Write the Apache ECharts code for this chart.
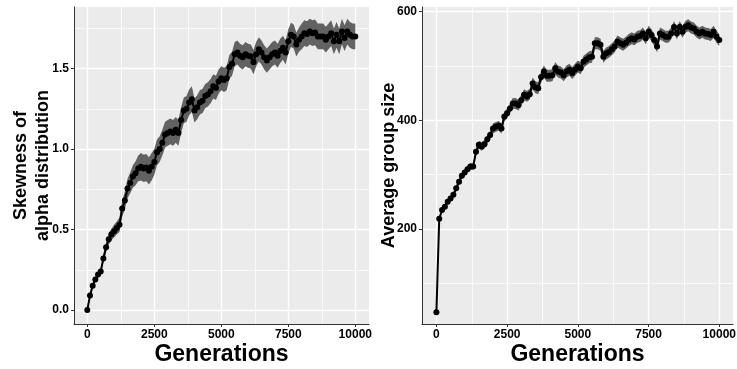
<!DOCTYPE html>
<html>
<head>
<meta charset="utf-8">
<script src="https://cdn.jsdelivr.net/npm/echarts@6/dist/echarts.min.js"></script>
<style>
html,body{margin:0;padding:0;background:#fff;}
#c{width:737px;height:369px;}
</style>
</head>
<body>
<div id="c"></div>
<script>
// Generations (x values)
const generations = [
  0,100,200,300,400,500,600,700,800,900,
  1000,1100,1200,1300,1400,1500,1600,1700,1800,1900,
  2000,2100,2200,2300,2400,2500,2600,2700,2800,2900,
  3000,3100,3200,3300,3400,3500,3600,3700,3800,3900,
  4000,4100,4200,4300,4400,4500,4600,4700,4800,4900,
  5000,5100,5200,5300,5400,5500,5600,5700,5800,5900,
  6000,6100,6200,6300,6400,6500,6600,6700,6800,6900,
  7000,7100,7200,7300,7400,7500,7600,7700,7800,7900,
  8000,8100,8200,8300,8400,8500,8600,8700,8800,8900,
  9000,9100,9200,9300,9400,9500,9600,9700,9800,9900,
  10000
];

// Left panel: skewness of alpha distribution (mean)
const skewness = [
  0.00,0.09,0.15,0.19,0.22,0.24,0.32,0.39,0.44,0.47,
  0.49,0.51,0.53,0.63,0.68,0.755,0.79,0.83,0.85,0.88,
  0.89,0.88,0.885,0.865,0.89,0.92,0.98,1.00,1.04,1.09,
  1.10,1.11,1.10,1.12,1.10,1.18,1.24,1.25,1.29,1.31,
  1.24,1.26,1.29,1.30,1.33,1.34,1.36,1.39,1.38,1.42,
  1.44,1.43,1.44,1.51,1.53,1.59,1.60,1.58,1.57,1.59,
  1.58,1.575,1.54,1.59,1.62,1.60,1.57,1.55,1.57,1.59,
  1.60,1.58,1.61,1.63,1.60,1.67,1.71,1.70,1.65,1.68,
  1.70,1.72,1.715,1.73,1.72,1.725,1.70,1.70,1.70,1.68,
  1.70,1.72,1.67,1.71,1.67,1.73,1.69,1.73,1.71,1.70,
  1.70
];
// Left panel: half-width of the shaded band
const skewnessBand = [
  0.005,0.01,0.012,0.015,0.018,0.02,0.025,0.03,0.035,0.035,
  0.04,0.04,0.045,0.05,0.055,0.06,0.065,0.07,0.075,0.08,
  0.085,0.085,0.085,0.085,0.085,0.08,0.08,0.08,0.08,0.08,
  0.08,0.08,0.08,0.08,0.08,0.08,0.08,0.08,0.08,0.08,
  0.075,0.075,0.075,0.075,0.075,0.075,0.075,0.075,0.075,0.075,
  0.075,0.075,0.075,0.075,0.075,0.075,0.075,0.075,0.075,0.075,
  0.075,0.075,0.075,0.075,0.075,0.075,0.075,0.075,0.075,0.075,
  0.075,0.075,0.075,0.075,0.075,0.075,0.075,0.075,0.075,0.075,
  0.08,0.08,0.08,0.08,0.08,0.08,0.08,0.08,0.08,0.08,
  0.08,0.08,0.08,0.08,0.08,0.08,0.08,0.08,0.08,0.08,
  0.08
];

// Right panel: average group size (mean)
const groupSize = [
  47,219,235,241,250,256,263,275,287,298,
  304,310,315,315,342,355,352,356,365,373,
  385,388,390,385,407,413,422,431,431,428,
  437,447,444,448,468,461,459,480,490,482,
  482,483,496,490,488,483,490,493,487,493,
  499,496,508,512,516,517,542,542,539,517,
  523,526,531,536,545,542,539,543,548,551,
  549,554,555,560,551,563,557,548,536,560,
  557,554,554,560,572,560,572,563,572,575,
  571,569,563,560,563,560,559,557,563,554,
  548
];
// Right panel: half-width of the shaded band
const groupSizeBand = [
  1,3,3,4,4,4,5,5,5,5,
  6,6,6,6,7,7,8,8,8,8,
  9,9,9,9,9,9,9,10,10,10,
  10,10,10,10,11,11,11,11,11,11,
  11,11,11,11,11,11,11,11,11,11,
  11,11,11,11,11,11,11,11,11,11,
  11,11,11,11,11,11,11,11,11,11,
  11,11,11,11,11,11,11,11,11,11,
  11,11,11,11,11,11,11,11,11,11,
  11,11,11,11,11,11,11,11,11,11,
  11
];

// Tick labels
const xTicks = [0, 2500, 5000, 7500, 10000];
const xMinor = [1250, 3750, 6250, 8750];
const skewTicks = [0, 0.5, 1.0, 1.5];
const skewMinor = [0.25, 0.75, 1.25, 1.75];
const sizeTicks = [200, 400, 600];
const sizeMinor = [100, 300, 500];

const FONT = '"Liberation Sans", Arial, sans-serif';
const chart = echarts.init(document.getElementById('c'), null, {renderer: 'canvas'});

function majorAxis(grid, min, max, ticks, fmt, extra) {
  return Object.assign({
    gridIndex: grid, type: 'value', min: min, max: max,
    nameMoveOverlap: false,
    axisLine: {show: true, onZero: false, lineStyle: {color: '#333', width: 1}},
    axisTick: {show: true, length: 3, customValues: ticks, lineStyle: {color: '#333', width: 1}},
    axisLabel: {customValues: ticks, color: '#000', fontWeight: 'bold', fontSize: 12, fontFamily: FONT, margin: 5, formatter: fmt},
    splitLine: {show: true, lineStyle: {color: '#ffffff', width: 1.4}}
  }, extra || {});
}
function minorAxis(grid, min, max, ticks) {
  return {
    gridIndex: grid, type: 'value', min: min, max: max,
    axisLine: {show: false}, axisLabel: {show: false},
    axisTick: {show: false, customValues: ticks},
    splitLine: {show: true, lineStyle: {color: '#ffffff', width: 0.7}}
  };
}
const intFmt = v => String(v);
const oneDec = v => v.toFixed(1);

function bandSeries(xi, yi, xs, ys, hw) {
  return {
    type: 'custom', xAxisIndex: xi, yAxisIndex: yi, clip: true, silent: true, z: 2,
    data: [[xs[0], ys[0]]],
    renderItem: function (params, api) {
      const pts = [];
      for (let i = 0; i < xs.length; i++) pts.push(api.coord([xs[i], ys[i] + hw[i]]));
      for (let i = xs.length - 1; i >= 0; i--) pts.push(api.coord([xs[i], ys[i] - hw[i]]));
      return {type: 'polygon', shape: {points: pts}, style: {fill: '#626262'}};
    }
  };
}
function lineSeries(xi, yi, xs, ys) {
  return {
    type: 'line', xAxisIndex: xi, yAxisIndex: yi, z: 3,
    data: xs.map((x, i) => [x, ys[i]]),
    symbol: 'circle', symbolSize: 6, showAllSymbol: true,
    itemStyle: {color: '#000'}, lineStyle: {color: '#000', width: 2}
  };
}

const nameX = {name: 'Generations', nameLocation: 'middle', nameGap: 19,
  nameTextStyle: {fontSize: 23, fontWeight: 'bold', color: '#000', fontFamily: FONT}};

chart.setOption({
  animation: false,
  backgroundColor: '#ffffff',
  grid: [
    {left: 74, top: 7, width: 295, height: 317, show: true, backgroundColor: '#EBEBEB', borderWidth: 0, containLabel: false, outerBoundsMode: 'none'},
    {left: 422, top: 7, width: 311, height: 317, show: true, backgroundColor: '#EBEBEB', borderWidth: 0, containLabel: false, outerBoundsMode: 'none'}
  ],
  xAxis: [
    majorAxis(0, -497, 10511, xTicks, intFmt, nameX),
    minorAxis(0, -497, 10511, xMinor),
    majorAxis(1, -509, 10484, xTicks, intFmt, nameX),
    minorAxis(1, -509, 10484, xMinor)
  ],
  yAxis: [
    majorAxis(0, -0.087, 1.883, skewTicks, oneDec, {
      name: 'Skewness of\nalpha distribution', nameLocation: 'middle', nameRotate: 90, nameGap: 20,
      nameTextStyle: {fontSize: 18, fontWeight: 'bold', color: '#000', lineHeight: 22, fontFamily: FONT}}),
    minorAxis(0, -0.087, 1.883, skewMinor),
    majorAxis(1, 25.2, 608.6, sizeTicks, intFmt, {
      name: 'Average group size', nameLocation: 'middle', nameRotate: 90, nameGap: 24,
      nameTextStyle: {fontSize: 18, fontWeight: 'bold', color: '#000', fontFamily: FONT}}),
    minorAxis(1, 25.2, 608.6, sizeMinor)
  ],
  series: [
    bandSeries(0, 0, generations, skewness, skewnessBand),
    lineSeries(0, 0, generations, skewness),
    bandSeries(2, 2, generations, groupSize, groupSizeBand),
    lineSeries(2, 2, generations, groupSize)
  ]
});
</script>
</body>
</html>
